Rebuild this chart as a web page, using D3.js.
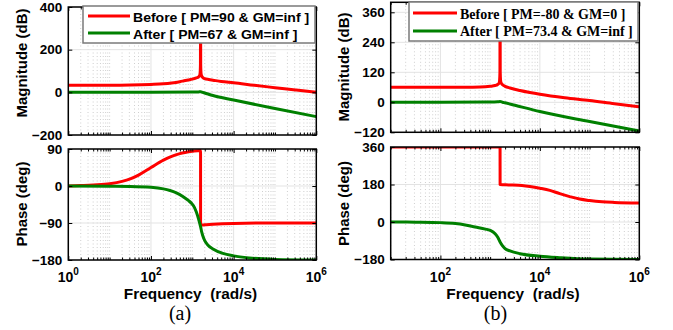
<!DOCTYPE html>
<html><head><meta charset="utf-8">
<script src="https://cdn.jsdelivr.net/npm/d3@7"></script>
<style>html,body{margin:0;padding:0;background:#fff;} svg{display:block;}</style>
</head><body><svg id="c" width="673" height="330"></svg>
<script>
// ---------------- DATA ----------------
// Panel (a)
const magBeforeA_w  = [1, 10, 31.6, 100, 200, 316, 500, 631, 800, 1000, 1259, 1413, 1514, 1549, 1574, 1585, 1596, 1622, 1660, 1778, 1995, 2512, 3162, 5012, 10000, 31623, 100000, 316228, 1000000];
const magBeforeA_db = [33, 33, 34, 37, 40, 44, 50, 54, 58, 62, 68, 72, 80, 92, 130, 600, 130, 92, 80, 70, 64, 60, 57, 51, 45, 33, 22, 11, 0];
const magAfterA_w   = [1, 100, 1000, 1413, 1585, 1778, 2000, 3162, 10000, 100000, 1000000];
const magAfterA_db  = [0, 0, 1, 2, 3, 0, -3, -15, -36, -76, -114];
const phBeforeA_w   = [1, 2, 3.16, 5, 10, 20, 31.6, 50, 100, 200, 316, 500, 1000, 1584, 1586, 2000, 3162, 10000, 100000, 1000000];
const phBeforeA_deg = [0, 1.1, 1.8, 2.9, 5.7, 11.3, 17.5, 26.6, 45, 63, 72, 78.7, 84.3, 86.5, -95, -94.5, -93, -91, -90, -90];
const phAfterA_w    = [1, 10, 31.6, 100, 200, 288, 400, 603, 800, 955, 1122, 1259, 1413, 1585, 1700, 1820, 2000, 2400, 3162, 5500, 10000, 24000, 100000, 1000000];
const phAfterA_deg  = [0, -0.5, -1, -3, -7, -11, -16, -26, -35, -42, -52, -64, -80, -99, -113, -123, -133, -144, -153, -164, -170, -175, -178.5, -180];
// Panel (b)
const magBeforeB_w  = [10, 100, 316, 631, 1000, 1259, 1413, 1514, 1549, 1574, 1585, 1596, 1622, 1660, 1778, 1995, 2512, 3981, 6310, 10000, 31623, 100000, 316228, 1000000];
const magBeforeB_db = [60, 60, 60, 61, 64, 67, 71, 77, 88, 120, 600, 120, 88, 78, 70, 64, 57, 47, 39, 32, 18, 7, -6, -18];
const magAfterB_w   = [10, 100, 1000, 1413, 1585, 1778, 1995, 3162, 10000, 100000, 1000000];
const magAfterB_db  = [0, 0, 1, 2, 3, 0, -2, -12, -37, -77, -115];
const phBeforeB_w   = [10, 1000, 1584, 1586, 2344, 4365, 10000, 15849, 25119, 39811, 63096, 100000, 177828, 316228, 1000000];
const phBeforeB_deg = [360, 360, 360, 180, 178, 175, 162, 152, 136, 122, 110, 103, 97, 94, 91];
const phAfterB_w    = [10, 31.6, 100, 200, 316, 500, 800, 1000, 1259, 1413, 1585, 1778, 1995, 2512, 3981, 10000, 25119, 100000, 1000000];
const phAfterB_deg  = [0, -1, -3, -7, -14, -24, -34, -40, -56, -72, -96, -115, -128, -139, -152, -164, -171, -178, -180];

// ticks / labels
const magTicksA = [-200, 0, 200, 400];
const phTicksA  = [-180, -90, 0, 90];
const magTicksB = [-120, 0, 120, 240, 360];
const phTicksB  = [-180, 0, 180, 360];
const xTickValsA = [1, 100, 10000, 1000000];
const xTickExpA  = ["0", "2", "4", "6"];
const xTickValsB = [100, 10000, 1000000];
const xTickExpB  = ["2", "4", "6"];
const legendA = ["Before [ PM=90 & GM=inf ]", "After [ PM=67 & GM=inf ]"];
const legendB = ["Before [ PM=-80 & GM=0 ]", "After [ PM=73.4 & GM=inf ]"];
const colors = ["#ff0000", "#008000"];

// ---------------- DRAWING ----------------
const svg = d3.select("#c");
const SANS = "'Liberation Sans', Arial, Helvetica, sans-serif";
const SERIF = "'Liberation Serif', 'Times New Roman', serif";
let clipId = 0;

function zip(a, b) { return a.map((v, i) => [v, b[i]]); }

function txt(parent, x, y, s, o) {
  o = Object.assign({size: 13, weight: "bold", family: SANS, anchor: "start", sx: 1, rotate: 0}, o || {});
  const g = parent.append("g").attr("transform", `translate(${x},${y}) rotate(${o.rotate}) scale(${o.sx},1)`);
  return g.append("text").attr("x", 0).attr("y", 0)
    .attr("font-family", o.family).attr("font-weight", o.weight).attr("font-size", o.size)
    .attr("text-anchor", o.anchor).attr("fill", "#000").style("white-space", "pre").text(s);
}

function panel(cfg) {
  const {x0, x1, y0, y1} = cfg;
  const x = d3.scaleLog().domain(cfg.xDomain).range([x0, x1]);
  const y = d3.scaleLinear().domain(cfg.yDomain).range([y1, y0]);
  const g = svg.append("g");
  g.append("rect").attr("x", x0).attr("y", y0).attr("width", x1 - x0).attr("height", y1 - y0).attr("fill", "#fff");
  const allTicks = x.ticks();
  const isMajor = d => cfg.xMajor.some(m => Math.abs(m - d) / m < 1e-6);
  // minor grid
  g.append("g").selectAll("line").data(allTicks.filter(d => !isMajor(d))).join("line")
    .attr("x1", d => x(d)).attr("x2", d => x(d)).attr("y1", y0).attr("y2", y1)
    .attr("stroke", "#cfcfcf").attr("stroke-width", 1).attr("stroke-dasharray", "1,2.5");
  // major grid
  g.append("g").selectAll("line").data(allTicks.filter(isMajor)).join("line")
    .attr("x1", d => x(d)).attr("x2", d => x(d)).attr("y1", y0).attr("y2", y1)
    .attr("stroke", "#e3e3e3").attr("stroke-width", 1);
  g.append("g").selectAll("line").data(cfg.yTicks).join("line")
    .attr("x1", x0).attr("x2", x1).attr("y1", d => y(d)).attr("y2", d => y(d))
    .attr("stroke", "#e3e3e3").attr("stroke-width", 1);
  // curves
  const cid = "clip" + (clipId++);
  svg.append("clipPath").attr("id", cid).append("rect")
    .attr("x", x0).attr("y", y0).attr("width", x1 - x0).attr("height", y1 - y0);
  const line = d3.line().x(d => x(d[0])).y(d => y(d[1])).curve(d3.curveMonotoneX);
  const cg = g.append("g").attr("clip-path", `url(#${cid})`);
  cfg.series.forEach((s, i) => {
    cg.append("path").attr("d", line(s)).attr("fill", "none")
      .attr("stroke", colors[i]).attr("stroke-width", 3).attr("stroke-linejoin", "round");
  });
  // axes (ticks inward)
  const styleAx = a => {
    a.select(".domain").remove();
    a.selectAll(".tick line").attr("stroke", "#000").attr("stroke-width", 1);
    a.selectAll("text").attr("font-family", SANS).attr("font-weight", "bold")
      .attr("font-size", 13.5).attr("fill", "#000");
  };
  g.append("g").attr("transform", `translate(${x0},0)`)
    .call(d3.axisLeft(y).tickValues(cfg.yTicks).tickSize(-4).tickPadding(6).tickFormat(d3.format("d")))
    .call(styleAx);
  g.append("g").attr("transform", `translate(${x1},0)`)
    .call(d3.axisRight(y).tickValues(cfg.yTicks).tickSize(-4).tickFormat(""))
    .call(styleAx);
  g.append("g").attr("transform", `translate(0,${y1})`)
    .call(d3.axisBottom(x).tickValues(allTicks).tickSize(-4).tickFormat(""))
    .call(styleAx)
    .call(a => a.selectAll(".tick line").attr("y2", d => isMajor(d) ? -4 : -2.5));
  g.append("g").attr("transform", `translate(0,${y0})`)
    .call(d3.axisTop(x).tickValues(allTicks).tickSize(-4).tickFormat(""))
    .call(styleAx)
    .call(a => a.selectAll(".tick line").attr("y2", d => isMajor(d) ? 4 : 2.5));
  g.append("rect").attr("x", x0).attr("y", y0).attr("width", x1 - x0).attr("height", y1 - y0)
    .attr("fill", "none").attr("stroke", "#000").attr("stroke-width", 1.5);
  // x tick labels
  if (cfg.xLabels) {
    cfg.xLabels.vals.forEach((v, i) => {
      const t = g.append("text").attr("x", x(v)).attr("y", 282)
        .attr("font-family", SANS).attr("font-weight", "bold").attr("font-size", 14)
        .attr("text-anchor", "middle").attr("fill", "#000");
      t.append("tspan").text("10");
      t.append("tspan").attr("dy", -7).attr("font-size", 10).text(cfg.xLabels.exps[i]);
    });
  }
  return {x, y, g};
}

// ----- Panel (a)
panel({x0: 68.3, x1: 316.3, y0: 7, y1: 135, xDomain: [1, 1e6], yDomain: [-200, 400],
  yTicks: magTicksA, xMajor: xTickValsA,
  series: [zip(magBeforeA_w, magBeforeA_db), zip(magAfterA_w, magAfterA_db)]});
panel({x0: 68.3, x1: 316.3, y0: 149, y1: 260, xDomain: [1, 1e6], yDomain: [-180, 90],
  yTicks: phTicksA, xMajor: xTickValsA, xLabels: {vals: xTickValsA, exps: xTickExpA},
  series: [zip(phBeforeA_w, phBeforeA_deg), zip(phAfterA_w, phAfterA_deg)]});
// ----- Panel (b)
panel({x0: 390.7, x1: 639.3, y0: 2.3, y1: 132.3, xDomain: [10, 1e6], yDomain: [-120, 400],
  yTicks: magTicksB, xMajor: xTickValsB,
  series: [zip(magBeforeB_w, magBeforeB_db), zip(magAfterB_w, magAfterB_db)]});
panel({x0: 390.7, x1: 639.3, y0: 147, y1: 259.5, xDomain: [10, 1e6], yDomain: [-180, 360],
  yTicks: phTicksB, xMajor: xTickValsB, xLabels: {vals: xTickValsB, exps: xTickExpB},
  series: [zip(phBeforeB_w, phBeforeB_deg), zip(phAfterB_w, phAfterB_deg)]});

// ----- Legends
function legend(bx, by, bw, bh, lx0, lx1, ly, tx, tys, labels, font) {
  const g = svg.append("g");
  g.append("rect").attr("x", bx).attr("y", by).attr("width", bw).attr("height", bh)
    .attr("fill", "#fff").attr("stroke", "#7a7a7a").attr("stroke-width", 1.5);
  labels.forEach((lab, i) => {
    g.append("line").attr("x1", lx0).attr("x2", lx1).attr("y1", ly[i]).attr("y2", ly[i])
      .attr("stroke", colors[i]).attr("stroke-width", 3);
    txt(g, tx, tys[i], lab, font);
  });
}
legend(83, 6, 232, 37, 88, 130, [16, 33], 133, [22, 38.5], legendA, {size: 13, sx: 1.08});
legend(409, 2, 229, 39, 413, 457, [13, 31], 460, [18.5, 35.5], legendB, {size: 14, family: SERIF});

// ----- Axis titles
txt(svg, 27, 63, "Magnitude (dB)", {size: 15, anchor: "middle", rotate: -90});
txt(svg, 27, 204, "Phase (deg)", {size: 15, anchor: "middle", rotate: -90});
txt(svg, 349, 67, "Magnitude (dB)", {size: 15, anchor: "middle", rotate: -90});
txt(svg, 349, 203.5, "Phase (deg)", {size: 15, anchor: "middle", rotate: -90});
txt(svg, 190.5, 299, "Frequency  (rad/s)", {size: 14, anchor: "middle", sx: 1.1});
txt(svg, 513, 299, "Frequency  (rad/s)", {size: 14, anchor: "middle", sx: 1.1});
txt(svg, 180, 320, "(a)", {size: 20, weight: "normal", family: SERIF, anchor: "middle"});
txt(svg, 495.5, 320, "(b)", {size: 20, weight: "normal", family: SERIF, anchor: "middle"});
</script>
</body></html>
